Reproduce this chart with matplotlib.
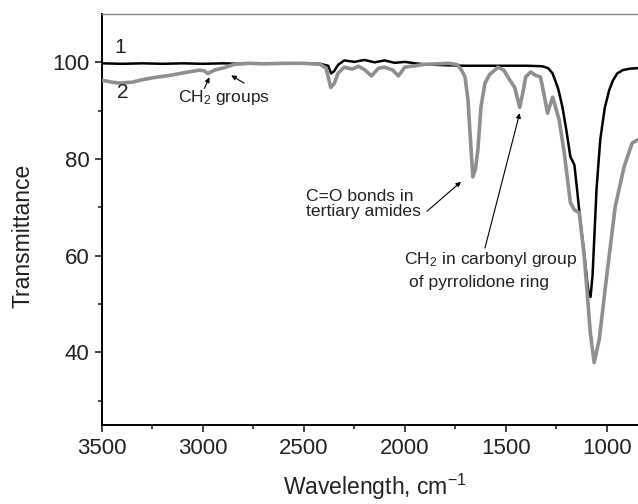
import numpy as np
import matplotlib
matplotlib.use('Agg')
import matplotlib.pyplot as plt

plt.rcParams['font.family'] = ['Liberation Sans', 'DejaVu Sans']
plt.rcParams['mathtext.fontset'] = 'custom'
plt.rcParams['mathtext.rm'] = 'Liberation Sans'
plt.rcParams['mathtext.it'] = 'Liberation Sans:italic'

# curve 1 (black)
wn1 = [3500, 3400, 3300, 3200, 3100, 3000, 2900, 2800, 2700, 2600, 2500, 2420, 2380, 2365,
       2350, 2330, 2300, 2250, 2200, 2150, 2100, 2050, 2000, 1950, 1900, 1850, 1800, 1700,
       1600, 1500, 1400, 1320, 1290, 1268, 1240, 1219, 1200, 1180, 1165, 1160, 1145, 1130,
       1110, 1095, 1087, 1080, 1070, 1062, 1050, 1032, 1010, 988, 970, 948, 920, 884, 845]
tr1 = [99.8, 99.7, 99.8, 99.7, 99.8, 99.7, 99.8, 99.7, 99.8, 99.7, 99.8, 99.7, 99.3, 97.7,
       98.2, 99.5, 100.4, 100.1, 100.5, 100.0, 100.4, 99.9, 100.1, 99.8, 99.6, 99.5, 99.4, 99.3,
       99.3, 99.3, 99.3, 99.2, 98.8, 97.7, 94.5, 90.7, 86.0, 80.5, 79.2, 78.8, 73.0, 66.8,
       60.0, 54.0, 51.8, 51.5, 56.0, 63.3, 74.0, 84.0, 90.5, 94.2, 96.2, 97.7, 98.4, 98.7, 98.8]

# curve 2 (grey)
wn2 = [3500, 3450, 3411, 3350, 3313, 3250, 3165, 3100, 3017, 2990, 2978, 2965, 2943, 2894,
       2845, 2770, 2700, 2600, 2505, 2420, 2390, 2367, 2350, 2330, 2300, 2260, 2230, 2200,
       2165, 2130, 2100, 2060, 2032, 2000, 1950, 1900, 1835, 1780, 1740, 1722, 1702, 1687,
       1677, 1663, 1650, 1638, 1623, 1603, 1580, 1554, 1540, 1510, 1490, 1456, 1431, 1416,
       1401, 1377, 1352, 1328, 1308, 1293, 1268, 1254, 1235, 1210, 1180, 1160, 1136, 1111,
       1081, 1062, 1037, 998, 958, 914, 874, 845]
tr2 = [96.3, 95.9, 95.7, 95.9, 96.3, 96.8, 97.3, 97.8, 98.4, 98.2, 97.7, 97.9, 98.4, 98.9,
       99.6, 99.8, 99.7, 99.8, 99.8, 99.6, 98.8, 94.8, 95.6, 97.8, 99.0, 98.6, 99.2, 98.5,
       97.2, 98.8, 99.0, 98.4, 97.2, 99.0, 99.3, 99.6, 99.7, 99.8, 99.5, 98.6, 97.0, 92.2,
       85.4, 76.3, 78.0, 82.0, 90.7, 95.7, 97.5, 98.4, 99.0, 98.4, 97.0, 94.8, 90.7, 93.6,
       97.0, 98.0, 97.3, 97.0, 92.8, 89.5, 92.8, 90.8, 88.0, 81.2, 71.0, 69.5, 68.9, 59.8,
       44.0, 37.9, 42.7, 56.5, 70.1, 78.4, 83.3, 84.0]

fig = plt.figure(figsize=(6.38, 5.04), dpi=100)
ax = fig.add_axes([102/638, 1-425/504, 1-102/638, (425-14)/504])

ax.plot(wn1, tr1, color='black', lw=1.8, zorder=2)
ax.plot(wn2, tr2, color='#8f8f8f', lw=2.6, zorder=3)

ax.set_xlim(3500, 845)
ax.set_ylim(25, 110)
ax.set_xticks([3500, 3000, 2500, 2000, 1500, 1000])
ax.set_xticks([3250, 2750, 2250, 1750, 1250], minor=True)
ax.set_yticks([40, 60, 80, 100])
ax.set_yticks([30, 50, 70, 90], minor=True)
ax.tick_params(which='major', direction='out', length=5, width=1.2, labelsize=16, pad=4, colors='#222222')
ax.tick_params(which='minor', direction='out', length=3, width=1.2, colors='#222222')
ax.spines['right'].set_visible(False)
ax.spines['top'].set_color('#888888')
ax.spines['top'].set_linewidth(1.0)
ax.spines['left'].set_linewidth(1.4)
ax.spines['bottom'].set_linewidth(1.4)

fig.text(23/638, 1-236/504, 'Transmittance', rotation=90, ha='center', va='center',
         fontsize=16.5, color='#222222')
fig.text(375/638, 9/504, r'Wavelength, cm$^{\mathregular{-1}}$', ha='center', va='baseline',
         fontsize=16.5, color='#222222')

# curve numbers
ax.text(3411, 103.1, '1', ha='center', va='center', fontsize=15, color='#222222')
ax.text(3397, 93.8, '2', ha='center', va='center', fontsize=15, color='#222222')

arrow = dict(arrowstyle='-|>', lw=0.8, color='black', mutation_scale=7, shrinkA=0, shrinkB=0)

ax.text(3126, 92.7, r'CH$_\mathregular{2}$ groups', ha='left', va='center', fontsize=12.5, color='#222222')
ax.annotate('', xy=(2968, 96.9), xytext=(2993, 94.6), arrowprops=arrow)
ax.annotate('', xy=(2860, 97.3), xytext=(2796, 95.7), arrowprops=arrow)

ax.text(2490, 70.7, 'C=O bonds in\ntertiary amides', ha='left', va='center', fontsize=12.6,
        color='#222222', linespacing=1.05)
ax.annotate('', xy=(1722, 75.3), xytext=(1890, 69.2), arrowprops=arrow)

ax.text(2003, 59.2, r'CH$_\mathregular{2}$ in carbonyl group', ha='left', va='center', fontsize=12.6, color='#222222')
ax.text(1978, 54.4, 'of pyrrolidone ring', ha='left', va='center', fontsize=12.6, color='#222222')
ax.annotate('', xy=(1431, 89.5), xytext=(1603, 61.6), arrowprops=arrow)

fig.savefig('out.png', dpi=100)
